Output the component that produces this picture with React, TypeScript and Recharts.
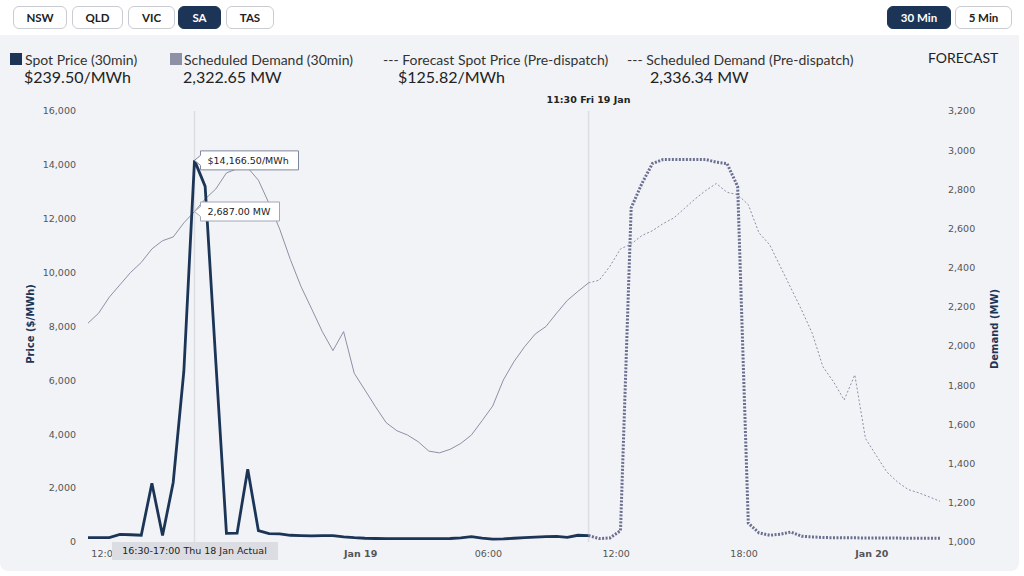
import React from "react";
import {
  LineChart,
  Line,
  XAxis,
  YAxis,
  ReferenceLine,
  ReferenceDot,
} from "recharts";

// half-hour slots, index 0 = first point on the chart
const actualPrice = [
  160, 160, 165, 280, 270, 250, 2180, 240, 2210, 6340, 14166.5, 13200, 6700,
  320, 330, 2700, 420, 310, 300, 250, 235, 225, 240, 240, 190, 160, 140, 130,
  125, 125, 125, 125, 125, 125, 130, 150, 200, 140, 110, 115, 140, 160, 180,
  200, 210, 170, 250, 239.5,
];

const actualDemand = [
  2117, 2168, 2250, 2313, 2376, 2427, 2496, 2538, 2557, 2629, 2687, 2751, 2802,
  2884, 2905, 2910, 2847, 2728, 2597, 2442, 2304, 2190, 2074, 1977, 2074, 1861,
  1776, 1690, 1609, 1568, 1546, 1512, 1464, 1455, 1473, 1503, 1546, 1619, 1694,
  1827, 1921, 1997, 2062, 2100, 2168, 2233, 2279, 2322.65,
];

// forecast starts at slot 47 (11:30 Fri 19 Jan)
const FORECAST_START = 47;

const forecastPrice = [
  239.5, 125.82, 150, 420, 12400, 13300, 14050, 14200, 14200, 14200, 14200,
  14200, 14100, 14050, 13200, 700, 340, 250, 290, 370, 215, 190, 165, 160, 160,
  155, 150, 150, 145, 145, 140, 140, 140, 137,
];

const forecastDemand = [
  2322.65, 2336.34, 2407, 2496, 2521, 2564, 2589, 2625, 2654, 2702, 2751, 2794,
  2830, 2785, 2773, 2722, 2578, 2518, 2407, 2296, 2185, 2066, 1895, 1818, 1725,
  1853, 1529, 1443, 1358, 1307, 1268, 1251, 1230, 1208,
];

// the 18:00 Thu tick sits under the hover label, so it is not drawn
const xTickPos = [1.6, 25.6, 37.6, 49.6, 61.6, 73.6];
const xTickLabels = ["12:00", "Jan 19", "06:00", "12:00", "18:00", "Jan 20"];
const priceTicks = [0, 2000, 4000, 6000, 8000, 10000, 12000, 14000, 16000];
const demandTicks = [1000, 1200, 1400, 1600, 1800, 2000, 2200, 2400, 2600, 2800, 3000, 3200];

const regions = ["NSW", "QLD", "VIC", "SA", "TAS"];
const intervals = ["30 Min", "5 Min"];

const CURSOR = 10;

const NAVY = "#1c3557";
const GREY = "#8e90a6";
const TICK_FONT = '"DejaVu Sans", Verdana, sans-serif';

// chart frame
const W = 1024;
const H = 576;
const PLOT_TOP = 111;
const LEFT_AXIS_W = 88;
const RIGHT_AXIS_W = 84;
const X_AXIS_H = 34;

const total = FORECAST_START + forecastPrice.length;
const data = Array.from({ length: total }, (_, i) => ({
  i,
  price: i < actualPrice.length ? actualPrice[i] : undefined,
  demand: i < actualDemand.length ? actualDemand[i] : undefined,
  fPrice: i >= FORECAST_START ? forecastPrice[i - FORECAST_START] : undefined,
  fDemand: i >= FORECAST_START ? forecastDemand[i - FORECAST_START] : undefined,
}));

// hover label position, from the same frame the x axis uses
const plotW = W - LEFT_AXIS_W - RIGHT_AXIS_W;
const cursorX = LEFT_AXIS_W + (CURSOR / (total - 1)) * plotW;
const plotBottom = H - X_AXIS_H;

const fmt = (v: number) => v.toLocaleString("en-US");

const XTick = (props: any) => {
  const { x, y, payload } = props;
  const idx = xTickPos.indexOf(payload.value);
  const label = xTickLabels[idx] ?? "";
  const bold = label.startsWith("Jan");
  return (
    <text
      x={x}
      y={y}
      dy="0.71em"
      textAnchor="middle"
      fill="#555"
      fontSize={9.5}
      fontWeight={bold ? "bold" : "normal"}
      fontFamily={TICK_FONT}
    >
      {label}
    </text>
  );
};

const Callout = ({ cx, cy, text, w, stroke }: any) => {
  const l = cx + 6;
  const path = `M${cx},${cy} L${l},${cy - 5} L${l},${cy - 9.5} L${l + w},${cy - 9.5} L${l + w},${cy + 9.5} L${l},${cy + 9.5} L${l},${cy + 5} Z`;
  return (
    <g>
      <path d={path} fill="#fff" stroke={stroke} strokeWidth={1} />
      <text
        x={l + 7}
        y={cy}
        dy="0.35em"
        fontSize={9.5}
        fontFamily={TICK_FONT}
        fill="#222"
      >
        {text}
      </text>
    </g>
  );
};

const btn = (active: boolean): React.CSSProperties => ({
  position: "absolute",
  top: 6,
  height: 23,
  boxSizing: "border-box",
  border: active ? `1px solid ${NAVY}` : "1px solid #c9ccd3",
  borderRadius: 6,
  background: active ? NAVY : "#fff",
  color: active ? "#fff" : "#222",
  fontSize: 11.5,
  fontWeight: 700,
  display: "flex",
  alignItems: "center",
  justifyContent: "center",
});

const regionBtn = [
  { left: 13, width: 54 },
  { left: 72, width: 51 },
  { left: 128, width: 47 },
  { left: 178, width: 43 },
  { left: 226, width: 48 },
];
const intervalBtn = [
  { left: 887, width: 64 },
  { left: 955, width: 57 },
];

const legendLabel: React.CSSProperties = {
  position: "absolute",
  top: 51,
  fontSize: 14,
  color: "#333",
  whiteSpace: "nowrap",
};
const legendValue: React.CSSProperties = {
  position: "absolute",
  top: 67,
  fontSize: 16,
  color: "#222",
  whiteSpace: "nowrap",
};

export default function App() {
  return (
    <div
      style={{
        position: "absolute",
        left: 0,
        top: 0,
        width: W,
        height: H,
        background: "#fff",
        overflow: "hidden",
        fontFamily: "Lato, sans-serif",
      }}
    >
      <div
        style={{
          position: "absolute",
          left: 0,
          top: 35,
          width: 1019,
          height: 536,
          background: "#f1f3f7",
          borderRadius: "0 0 8px 8px",
        }}
      />

      {regions.map((r, k) => (
        <div key={r} style={{ ...btn(r === "SA"), ...regionBtn[k] }}>
          {r}
        </div>
      ))}
      {intervals.map((r, k) => (
        <div key={r} style={{ ...btn(k === 0), ...intervalBtn[k] }}>
          {r}
        </div>
      ))}

      <div style={{ position: "absolute", left: 10, top: 53, width: 12, height: 12, background: NAVY }} />
      <div style={{ ...legendLabel, left: 25 }}>Spot Price (30min)</div>
      <div style={{ ...legendValue, left: 24 }}>$239.50/MWh</div>

      <div style={{ position: "absolute", left: 170, top: 53, width: 12, height: 12, background: GREY }} />
      <div style={{ ...legendLabel, left: 184 }}>Scheduled Demand (30min)</div>
      <div style={{ ...legendValue, left: 183 }}>2,322.65 MW</div>

      <div style={{ ...legendLabel, left: 383 }}>--- Forecast Spot Price (Pre-dispatch)</div>
      <div style={{ ...legendValue, left: 398 }}>$125.82/MWh</div>

      <div style={{ ...legendLabel, left: 627 }}>--- Scheduled Demand (Pre-dispatch)</div>
      <div style={{ ...legendValue, left: 650 }}>2,336.34 MW</div>

      <div style={{ ...legendLabel, left: 928, top: 49, color: "#222" }}>FORECAST</div>

      <div
        style={{
          position: "absolute",
          left: 30,
          top: 324,
          transform: "translate(-50%, -50%) rotate(-90deg)",
          whiteSpace: "nowrap",
          fontFamily: TICK_FONT,
          fontWeight: "bold",
          fontSize: 10,
          color: NAVY,
        }}
      >
        Price ($/MWh)
      </div>
      <div
        style={{
          position: "absolute",
          left: 994,
          top: 329,
          transform: "translate(-50%, -50%) rotate(-90deg)",
          whiteSpace: "nowrap",
          fontFamily: TICK_FONT,
          fontWeight: "bold",
          fontSize: 10,
          color: NAVY,
        }}
      >
        Demand (MW)
      </div>

      <div style={{ position: "absolute", left: 0, top: 0 }}>
        <LineChart
          width={W}
          height={H}
          data={data}
          margin={{ top: PLOT_TOP, right: 0, bottom: 0, left: 0 }}
        >
          <XAxis
            dataKey="i"
            type="number"
            domain={[0, total - 1]}
            ticks={xTickPos}
            tick={<XTick />}
            axisLine={false}
            tickLine={false}
            height={X_AXIS_H}
            interval={0}
          />
          <YAxis
            yAxisId="price"
            orientation="left"
            width={LEFT_AXIS_W}
            domain={[0, 16000]}
            ticks={priceTicks}
            tickFormatter={fmt}
            axisLine={false}
            tickLine={false}
            tickMargin={6}
            tick={{ fill: "#555", fontSize: 9.5, fontFamily: TICK_FONT }}
          />
          <YAxis
            yAxisId="demand"
            orientation="right"
            width={RIGHT_AXIS_W}
            domain={[1000, 3200]}
            ticks={demandTicks}
            tickFormatter={fmt}
            axisLine={false}
            tickLine={false}
            tick={{ fill: "#555", fontSize: 9.5, fontFamily: TICK_FONT }}
          />
          <ReferenceLine
            x={CURSOR}
            yAxisId="price"
            stroke="#dcdee4"
            strokeWidth={1.5}
          />
          <ReferenceLine
            x={FORECAST_START}
            yAxisId="price"
            stroke="#dcdee4"
            strokeWidth={1.5}
            label={{
              value: "11:30 Fri 19 Jan",
              position: "top",
              offset: 8,
              fill: "#222",
              fontSize: 9.5,
              fontWeight: "bold",
              fontFamily: TICK_FONT,
            }}
          />
          <Line
            yAxisId="demand"
            dataKey="demand"
            stroke={GREY}
            strokeWidth={1}
            dot={false}
            isAnimationActive={false}
          />
          <Line
            yAxisId="demand"
            dataKey="fDemand"
            stroke={GREY}
            strokeWidth={1}
            strokeDasharray="2 2"
            dot={false}
            isAnimationActive={false}
          />
          <Line
            yAxisId="price"
            dataKey="fPrice"
            stroke="#6b6f90"
            strokeWidth={3}
            strokeDasharray="2 1.5"
            dot={false}
            isAnimationActive={false}
          />
          <Line
            yAxisId="price"
            dataKey="price"
            stroke={NAVY}
            strokeWidth={2.8}
            dot={false}
            isAnimationActive={false}
          />
          <ReferenceDot
            x={CURSOR}
            y={actualPrice[CURSOR]}
            yAxisId="price"
            r={0}
            shape={(p: any) => (
              <Callout cx={p.cx} cy={p.cy} w={98} stroke="#7f879e" text="$14,166.50/MWh" />
            )}
          />
          <ReferenceDot
            x={CURSOR}
            y={actualDemand[CURSOR]}
            yAxisId="demand"
            r={0}
            shape={(p: any) => (
              <Callout cx={p.cx} cy={p.cy} w={79} stroke="#a3a6b8" text="2,687.00 MW" />
            )}
          />
        </LineChart>
      </div>

      {/* hover time label, drawn over the axis ticks */}
      <div
        style={{
          position: "absolute",
          left: cursorX - 83,
          top: plotBottom,
          width: 166,
          height: 18,
          background: "#dcdde2",
          color: "#222",
          fontFamily: TICK_FONT,
          fontSize: 9.5,
          lineHeight: "18px",
          textAlign: "center",
          whiteSpace: "nowrap",
        }}
      >
        16:30-17:00 Thu 18 Jan Actual
      </div>
    </div>
  );
}
